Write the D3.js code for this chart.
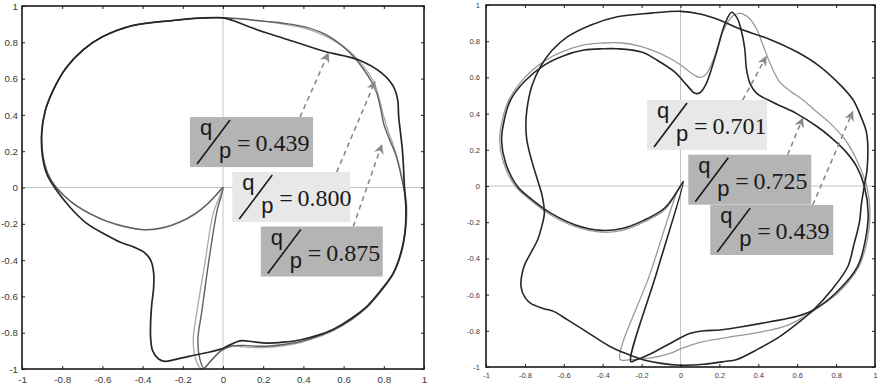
<!DOCTYPE html>
<html>
<head>
<meta charset="utf-8">
<script src="https://cdn.jsdelivr.net/npm/d3@7"></script>
<style>
  body { margin: 0; background: #fff; }
  svg { display: block; }
</style>
</head>
<body>
<svg id="chart" width="882" height="387"></svg>
<script>
// ---- data (data units) ----
const tickValues = [-1, -0.8, -0.6, -0.4, -0.2, 0, 0.2, 0.4, 0.6, 0.8, 1];

// left panel: three closed trajectories
const leftCurve439 = [[0,0.935],[-0.114,0.933],[-0.25,0.92],[-0.446,0.893],[-0.6,0.83],[-0.695,0.759],[-0.78,0.66],[-0.844,0.538],[-0.885,0.42],[-0.902,0.3],[-0.898,0.17],[-0.875,0.07],[-0.83,-0.013],[-0.76,-0.11],[-0.68,-0.196],[-0.58,-0.262],[-0.51,-0.302],[-0.44,-0.33],[-0.395,-0.355],[-0.36,-0.4],[-0.345,-0.47],[-0.345,-0.55],[-0.355,-0.65],[-0.36,-0.74],[-0.36,-0.83],[-0.35,-0.9],[-0.32,-0.945],[-0.29,-0.958],[-0.24,-0.948],[-0.17,-0.93],[-0.09,-0.912],[-0.015,-0.892],[0.035,-0.867],[0.085,-0.845],[0.15,-0.85],[0.217,-0.857],[0.3,-0.852],[0.383,-0.84],[0.47,-0.815],[0.547,-0.782],[0.64,-0.72],[0.715,-0.656],[0.79,-0.56],[0.847,-0.472],[0.885,-0.36],[0.905,-0.251],[0.91,-0.12],[0.903,0],[0.893,0.2],[0.874,0.391],[0.869,0.483],[0.848,0.556],[0.79,0.63],[0.673,0.704],[0.507,0.749],[0.375,0.796],[0.25,0.84],[0.126,0.887],[0.05,0.92]];
const leftCurve800 = [[0,0.935],[-0.114,0.933],[-0.25,0.92],[-0.446,0.893],[-0.6,0.83],[-0.695,0.76],[-0.78,0.66],[-0.844,0.538],[-0.885,0.42],[-0.902,0.3],[-0.895,0.17],[-0.873,0.08],[-0.84,0.015],[-0.79,-0.045],[-0.73,-0.1],[-0.66,-0.145],[-0.58,-0.185],[-0.49,-0.215],[-0.396,-0.234],[-0.3,-0.224],[-0.22,-0.195],[-0.14,-0.148],[-0.075,-0.09],[-0.025,-0.032],[0,0],[-0.048,-0.141],[-0.09,-0.417],[-0.131,-0.692],[-0.148,-0.839],[-0.135,-0.949],[-0.106,-1.0],[-0.056,-0.949],[-0.006,-0.894],[0.04,-0.87],[0.1,-0.878],[0.2,-0.882],[0.3,-0.872],[0.383,-0.855],[0.47,-0.825],[0.547,-0.79],[0.64,-0.73],[0.715,-0.662],[0.79,-0.567],[0.847,-0.477],[0.887,-0.365],[0.907,-0.25],[0.915,-0.12],[0.908,-0.04],[0.89,0.06],[0.87,0.15],[0.845,0.24],[0.822,0.31],[0.8,0.39],[0.78,0.48],[0.758,0.56],[0.73,0.62],[0.69,0.68],[0.64,0.74],[0.58,0.79],[0.5,0.84],[0.408,0.877],[0.3,0.9],[0.209,0.915],[0.1,0.928]];
const leftCurve875 = [[0,0.935],[-0.114,0.933],[-0.25,0.92],[-0.446,0.893],[-0.6,0.83],[-0.695,0.759],[-0.78,0.66],[-0.844,0.538],[-0.885,0.42],[-0.902,0.3],[-0.895,0.17],[-0.873,0.08],[-0.84,0.015],[-0.79,-0.045],[-0.73,-0.1],[-0.66,-0.145],[-0.58,-0.185],[-0.49,-0.215],[-0.396,-0.232],[-0.3,-0.222],[-0.22,-0.192],[-0.14,-0.145],[-0.075,-0.088],[-0.025,-0.03],[0,0],[-0.03,-0.13],[-0.07,-0.4],[-0.105,-0.68],[-0.125,-0.84],[-0.115,-0.945],[-0.095,-0.995],[-0.06,-0.955],[-0.01,-0.9],[0.04,-0.875],[0.1,-0.87],[0.2,-0.875],[0.3,-0.865],[0.383,-0.85],[0.47,-0.82],[0.547,-0.785],[0.64,-0.725],[0.715,-0.66],[0.79,-0.565],[0.847,-0.475],[0.885,-0.365],[0.905,-0.25],[0.912,-0.12],[0.905,-0.04],[0.885,0.07],[0.86,0.18],[0.83,0.26],[0.8,0.35],[0.785,0.43],[0.765,0.52],[0.74,0.58],[0.7,0.65],[0.65,0.72],[0.6,0.775],[0.507,0.845],[0.408,0.885],[0.3,0.905],[0.209,0.915],[0.1,0.928]];

// right panel: three closed trajectories
const rightCurve439 = [[0,0.965],[-0.15,0.955],[-0.325,0.935],[-0.46,0.89],[-0.58,0.825],[-0.66,0.75],[-0.72,0.66],[-0.765,0.55],[-0.79,0.42],[-0.795,0.33],[-0.79,0.254],[-0.765,0.14],[-0.735,0.033],[-0.71,-0.06],[-0.7,-0.15],[-0.715,-0.23],[-0.735,-0.298],[-0.775,-0.38],[-0.805,-0.446],[-0.82,-0.556],[-0.8,-0.615],[-0.77,-0.648],[-0.71,-0.675],[-0.65,-0.694],[-0.58,-0.74],[-0.496,-0.796],[-0.36,-0.888],[-0.27,-0.93],[-0.188,-0.961],[-0.1,-0.98],[0,-0.99],[0.12,-0.985],[0.225,-0.97],[0.29,-0.958],[0.4,-0.9],[0.51,-0.832],[0.6,-0.76],[0.683,-0.685],[0.78,-0.57],[0.86,-0.446],[0.89,-0.33],[0.92,-0.2],[0.93,-0.1],[0.945,0],[0.96,0.1],[0.957,0.291],[0.925,0.39],[0.888,0.475],[0.82,0.56],[0.717,0.66],[0.6,0.74],[0.46,0.81],[0.3,0.87],[0.2,0.917],[0.1,0.95]];
const rightCurve725 = [[0,0],[-0.08,-0.12],[-0.19,-0.19],[-0.3,-0.235],[-0.41,-0.245],[-0.54,-0.215],[-0.667,-0.15],[-0.77,-0.07],[-0.84,0],[-0.9,0.13],[-0.92,0.254],[-0.905,0.37],[-0.874,0.475],[-0.8,0.58],[-0.7,0.668],[-0.6,0.72],[-0.496,0.751],[-0.4,0.758],[-0.325,0.758],[-0.2,0.74],[-0.12,0.695],[-0.03,0.63],[0.03,0.56],[0.075,0.512],[0.1,0.515],[0.13,0.56],[0.18,0.72],[0.23,0.9],[0.263,0.96],[0.29,0.93],[0.31,0.87],[0.33,0.76],[0.34,0.64],[0.36,0.56],[0.392,0.512],[0.48,0.46],[0.597,0.4],[0.7,0.33],[0.77,0.272],[0.85,0.19],[0.906,0.107],[0.945,0],[0.965,-0.15],[0.95,-0.3],[0.91,-0.446],[0.8,-0.59],[0.683,-0.685],[0.6,-0.72],[0.46,-0.75],[0.3,-0.78],[0.2,-0.796],[0.12,-0.8],[0.05,-0.814],[-0.054,-0.87],[-0.15,-0.925],[-0.23,-0.962],[-0.255,-0.97],[-0.12,-0.47],[0.015,0.025]];
const rightCurve701 = [[0,0],[-0.08,-0.13],[-0.19,-0.2],[-0.3,-0.245],[-0.41,-0.255],[-0.54,-0.225],[-0.667,-0.16],[-0.78,-0.07],[-0.85,0],[-0.91,0.13],[-0.93,0.254],[-0.915,0.37],[-0.88,0.48],[-0.8,0.6],[-0.7,0.69],[-0.6,0.745],[-0.496,0.78],[-0.4,0.79],[-0.3,0.79],[-0.2,0.77],[-0.1,0.73],[0,0.67],[0.06,0.62],[0.1,0.6],[0.13,0.615],[0.17,0.7],[0.22,0.86],[0.27,0.94],[0.306,0.954],[0.35,0.93],[0.39,0.87],[0.42,0.79],[0.46,0.68],[0.51,0.575],[0.57,0.52],[0.63,0.475],[0.7,0.41],[0.77,0.346],[0.85,0.25],[0.906,0.144],[0.957,0],[0.974,-0.15],[0.96,-0.3],[0.915,-0.45],[0.81,-0.59],[0.683,-0.69],[0.55,-0.77],[0.374,-0.814],[0.25,-0.835],[0.117,-0.86],[0,-0.9],[-0.054,-0.925],[-0.15,-0.95],[-0.26,-0.96],[-0.31,-0.958],[-0.155,-0.48],[-0.02,-0.04]];

// annotations: q/p values, box top-left corner, arrow start / end
const leftLabels = ["0.439", "0.800", "0.875"];
const leftBoxAnchors = [[-0.164, 0.388], [0.046, 0.085], [0.188, -0.215]];
const leftArrowFrom = [[0.383, 0.388], [0.566, 0.085], [0.648, -0.215]];
const leftArrowTo = [[0.524, 0.74], [0.756, 0.584], [0.79, 0.235]];

const rightLabels = ["0.701", "0.725", "0.439"];
const rightBoxAnchors = [[-0.172, 0.475], [0.04, 0.173], [0.153, -0.105]];
const rightArrowFrom = [[0.32, 0.475], [0.551, 0.173], [0.68, -0.105]];
const rightArrowTo = [[0.44, 0.714], [0.628, 0.374], [0.885, 0.41]];

// ---- drawing ----
const svg = d3.select('#chart');
const BOX_DARK = '#b4b4b4', BOX_LIGHT = '#e8e8e8';
const SANS = "'Liberation Sans', Arial, sans-serif";
const SERIF = "'Liberation Serif', 'Times New Roman', 'DejaVu Serif', serif";

const defs = svg.append('defs');
defs.append('marker')
  .attr('id', 'head')
  .attr('viewBox', '0 0 10 10')
  .attr('refX', 9).attr('refY', 5)
  .attr('markerWidth', 10).attr('markerHeight', 10)
  .attr('markerUnits', 'userSpaceOnUse')
  .attr('orient', 'auto')
  .append('path')
  .attr('d', 'M0,0 L10,5 L0,10 L3,5 Z')
  .attr('fill', '#8a8a8a');

function fmt(d) {
  return d === 0 ? '0' : String(+d.toFixed(1));
}

function drawPanel(cfg) {
  const x = d3.scaleLinear().domain([-1, 1]).range(cfg.xr);
  const y = d3.scaleLinear().domain([-1, 1]).range(cfg.yr);
  const g = svg.append('g');

  // crosshair through origin
  g.append('line').attr('x1', x(0)).attr('x2', x(0)).attr('y1', y(-1)).attr('y2', y(1))
    .attr('stroke', '#c4c4c4').attr('stroke-width', 1);
  g.append('line').attr('x1', x(-1)).attr('x2', x(1)).attr('y1', y(0)).attr('y2', y(0))
    .attr('stroke', '#c4c4c4').attr('stroke-width', 1);

  // curves
  const line = d3.line()
    .x((d) => x(d[0])).y((d) => y(d[1]))
    .curve(d3.curveCatmullRomClosed.alpha(0.5));
  cfg.curves.forEach((c) => {
    g.append('path').attr('d', line(c.pts))
      .attr('fill', 'none').attr('stroke', c.color)
      .attr('stroke-width', c.width).attr('stroke-linejoin', 'round');
  });

  // axes: ticks inside on all four sides
  const axes = [
    { ax: d3.axisBottom(x), t: `translate(0,${y(-1)})`, lab: true, pad: cfg.padX },
    { ax: d3.axisLeft(y), t: `translate(${x(-1)},0)`, lab: true, pad: cfg.padY },
    { ax: d3.axisTop(x), t: `translate(0,${y(1)})`, lab: false, pad: 3 },
    { ax: d3.axisRight(y), t: `translate(${x(1)},0)`, lab: false, pad: 3 },
  ];
  axes.forEach((a) => {
    const ag = g.append('g').attr('transform', a.t)
      .call(a.ax.tickValues(tickValues).tickSizeInner(-3).tickSizeOuter(0)
        .tickPadding(a.pad).tickFormat(a.lab ? fmt : ''));
    ag.select('.domain').remove();
    ag.selectAll('line').attr('stroke', '#222');
    ag.selectAll('text').style('font-family', SANS)
      .style('font-size', cfg.tickFont + 'px').attr('fill', '#3a3a3a');
  });

  // frame
  g.append('rect').attr('x', x(-1)).attr('y', y(1))
    .attr('width', x(1) - x(-1)).attr('height', y(-1) - y(1))
    .attr('fill', 'none').attr('stroke', '#1a1a1a').attr('stroke-width', cfg.frameW);

  // dashed arrows
  cfg.from.forEach((f, i) => {
    const t = cfg.to[i];
    g.append('line')
      .attr('x1', x(f[0])).attr('y1', y(f[1]))
      .attr('x2', x(t[0])).attr('y2', y(t[1]))
      .attr('stroke', '#8a8a8a').attr('stroke-width', 1.6)
      .attr('stroke-dasharray', '5,4')
      .attr('marker-end', 'url(#head)');
  });

  // q/p label boxes
  cfg.labels.forEach((lab, i) => {
    const a = cfg.anchors[i];
    const bx = x(a[0]), by = y(a[1]);
    const lg = g.append('g').attr('transform', `translate(${bx},${by})`);
    lg.append('rect').attr('width', cfg.boxW[i]).attr('height', 50)
      .attr('fill', cfg.fills[i]);
    lg.append('text').attr('x', 10).attr('y', 18)
      .style('font-family', SANS).style('font-size', '22px')
      .attr('fill', '#1a1a1a').text('q');
    lg.append('line').attr('x1', 7).attr('y1', 47).attr('x2', 40).attr('y2', 3)
      .attr('stroke', '#1a1a1a').attr('stroke-width', 1.6);
    lg.append('text').attr('x', 29).attr('y', 41)
      .style('font-family', SANS).style('font-size', '22px')
      .attr('fill', '#1a1a1a').text('p');
    lg.append('text').attr('x', 47).attr('y', 34)
      .style('font-family', SERIF).style('font-size', '24px')
      .attr('fill', '#1a1a1a').text('=\u2009' + lab);
  });
}

drawPanel({
  xr: [22, 424], yr: [369, 6], padX: 7, padY: 4, tickFont: 9.8, frameW: 1.6,
  curves: [
    { pts: leftCurve800, color: '#a8a8a8', width: 1.3 },
    { pts: leftCurve875, color: '#606060', width: 1.4 },
    { pts: leftCurve439, color: '#262626', width: 1.7 },
  ],
  labels: leftLabels, anchors: leftBoxAnchors, from: leftArrowFrom, to: leftArrowTo,
  fills: [BOX_DARK, BOX_LIGHT, BOX_DARK], boxW: [123, 118, 122],
});

drawPanel({
  xr: [486, 875], yr: [367, 5], padX: 6, padY: 6, tickFont: 7.5, frameW: 1.6,
  curves: [
    { pts: rightCurve701, color: '#9a9a9a', width: 1.3 },
    { pts: rightCurve725, color: '#262626', width: 1.6 },
    { pts: rightCurve439, color: '#262626', width: 1.6 },
  ],
  labels: rightLabels, anchors: rightBoxAnchors, from: rightArrowFrom, to: rightArrowTo,
  fills: [BOX_LIGHT, BOX_DARK, BOX_DARK], boxW: [120, 123, 123],
});
</script>
</body>
</html>
